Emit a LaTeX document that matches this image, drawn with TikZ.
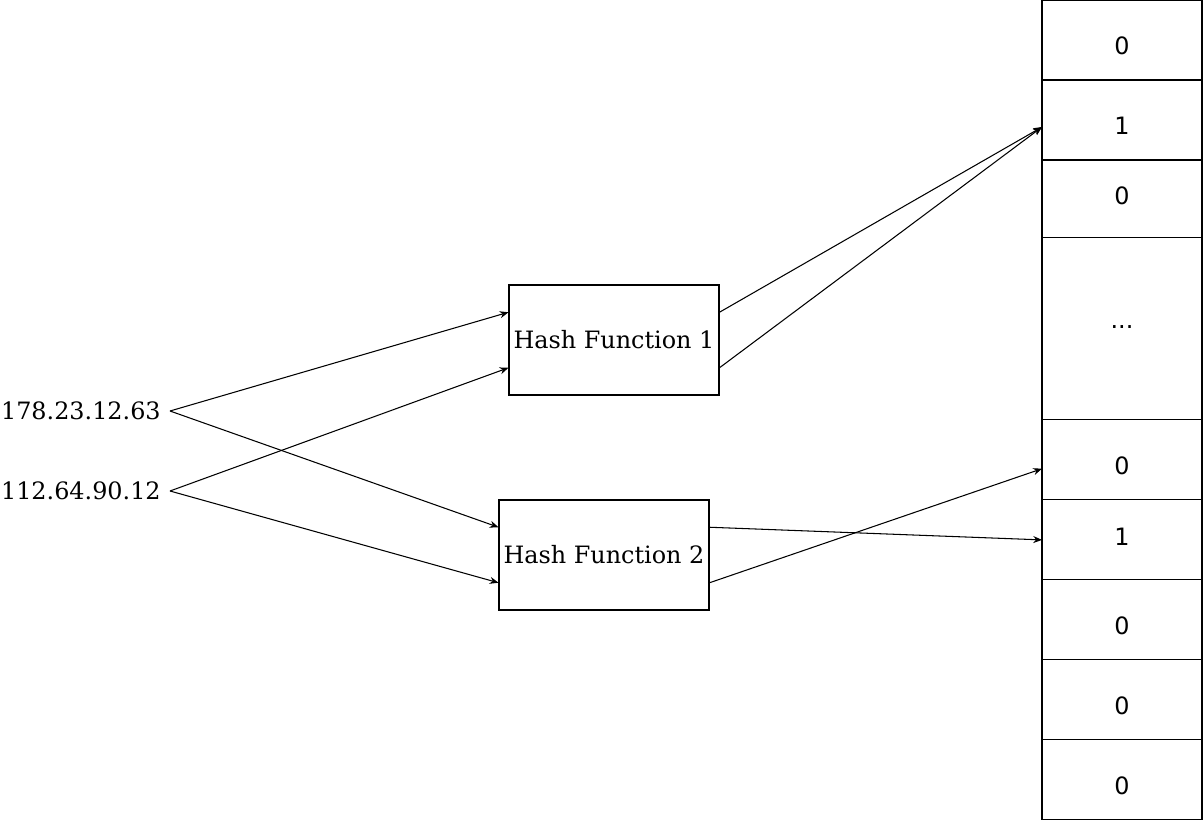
\documentclass[tikz,border=0pt]{standalone}
\usepackage{fontspec}
\setmainfont{DejaVu Serif}
\newfontfamily\cellfont{DejaVu Sans}
\usetikzlibrary{positioning,calc,arrows.meta}

\begin{document}
\begin{tikzpicture}[x=0.02cm, y=-0.02cm, line width=0.6pt,
    font=\fontsize{13.6}{16}\selectfont,
    hashbox/.style={draw, minimum width=4.2cm, minimum height=2.2cm, inner sep=0pt},
    cell/.style={draw, minimum width=3.2cm, minimum height=1.6cm, inner sep=0pt, outer sep=0pt,
        font=\cellfont\fontsize{13.6}{16}\selectfont, text height=16.5pt, text depth=0pt},
    iplabel/.style={anchor=east, inner xsep=5pt, inner ysep=0pt},
    link/.style={-{Stealth[length=5pt,width=4pt]}}]
    \useasboundingbox (0,0) rectangle (1204,821);

    % Input addresses
    \node[iplabel] (ipA) at (170,411) {178.23.12.63};
    \node[iplabel] (ipB) at (170,491) {112.64.90.12};

    % Hash functions
    \node[hashbox] (hfA) at (614,340) {Hash Function 1};
    \node[hashbox] (hfB) at (604,555) {Hash Function 2};

    % Bit array
    \node[cell] (c1) at (1122,40) {0};
    \node[cell, below=0pt of c1] (c2) {1};
    \node[cell, below=0pt of c2, minimum height=1.56cm, text height=6.2pt] (c3) {0};
    \node[cell, below=0pt of c3, minimum height=3.64cm, text height=4pt, text depth=4pt] (c4) {...};
    \node[cell, below=0pt of c4] (c5) {0};
    \node[cell, below=0pt of c5, text height=6.2pt] (c6) {1};
    \node[cell, below=0pt of c6] (c7) {0};
    \node[cell, below=0pt of c7] (c8) {0};
    \node[cell, below=0pt of c8] (c9) {0};

    % Inputs into the hash functions
    \draw[link] (ipA.east) -- ($(hfA.north west)!0.25!(hfA.south west)$);
    \draw[link] (ipA.east) -- ($(hfB.north west)!0.25!(hfB.south west)$);
    \draw[link] (ipB.east) -- ($(hfA.north west)!0.75!(hfA.south west)$);
    \draw[link] (ipB.east) -- ($(hfB.north west)!0.75!(hfB.south west)$);

    % Hash outputs into the array
    \draw[link] ($(hfA.north east)!0.25!(hfA.south east)$) -- ([yshift=-4pt]c2.west);
    \draw[link] ($(hfA.north east)!0.75!(hfA.south east)$) -- ([yshift=-4pt]c2.west);
    \draw[link] ($(hfB.north east)!0.25!(hfB.south east)$) -- (c6.west);
    \draw[link] ($(hfB.north east)!0.75!(hfB.south east)$) -- ([yshift=-5pt]c5.west);
\end{tikzpicture}
\end{document}
